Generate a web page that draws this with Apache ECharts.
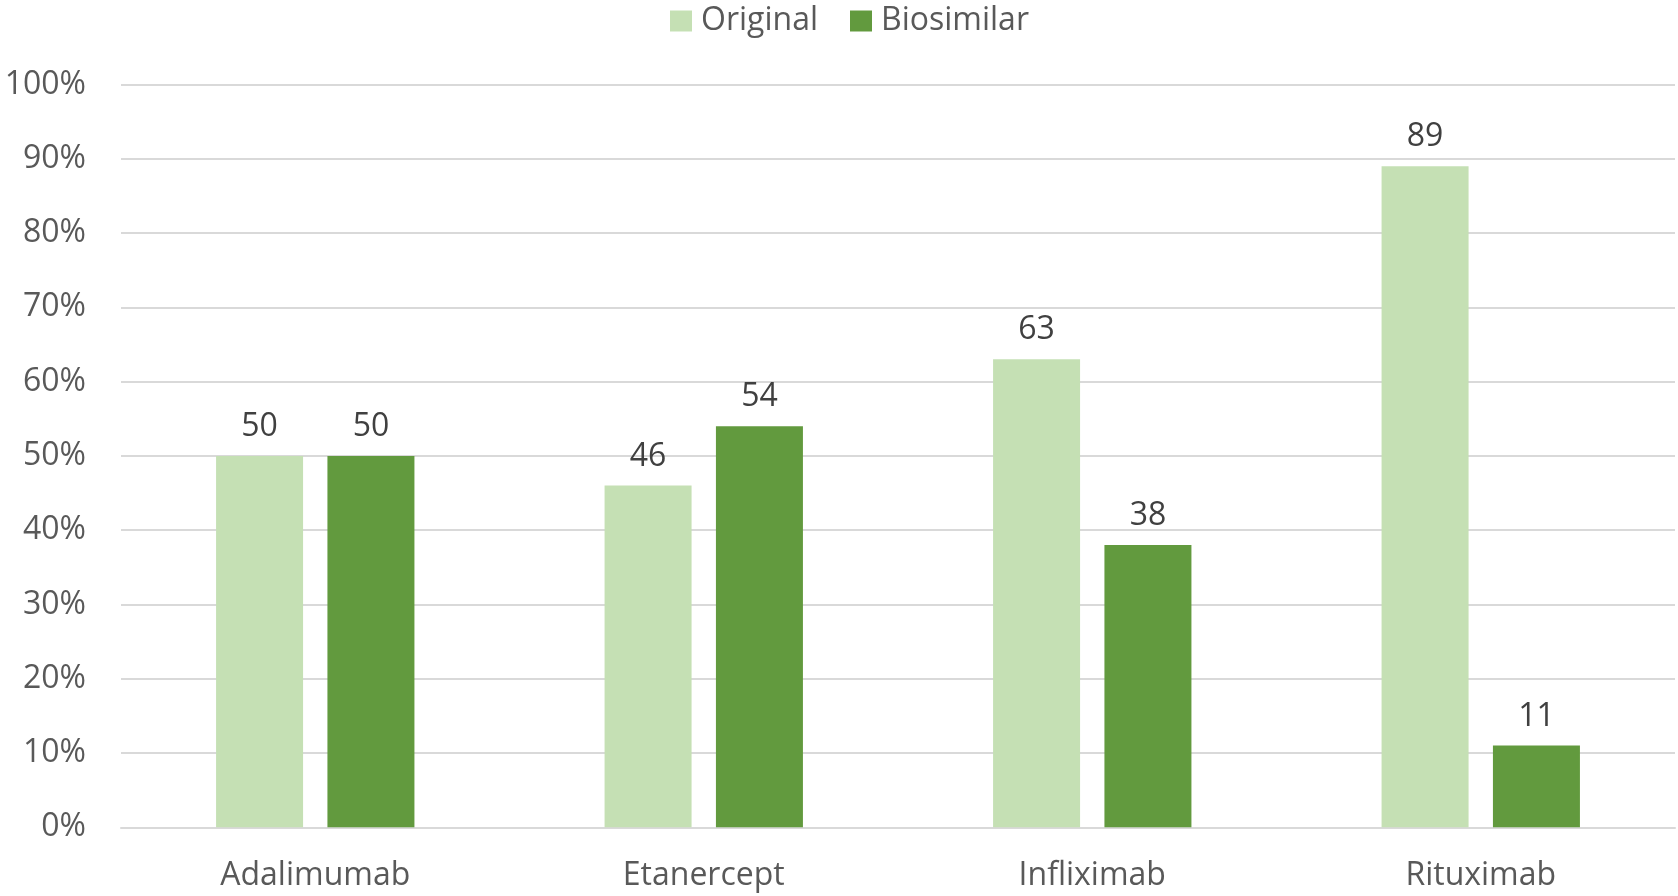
<!DOCTYPE html>
<html><head><meta charset="utf-8">
<script src="https://cdn.jsdelivr.net/npm/echarts@6/dist/echarts.min.js"></script>
<style>html,body{margin:0;padding:0;background:#fff}#c{width:1678px;height:896px}</style>
</head><body><div id="c"></div>
<script>
const categories = ['Adalimumab', 'Etanercept', 'Infliximab', 'Rituximab'];
const originalValues = [50, 46, 63, 89];
const biosimilarValues = [50, 54, 38, 11];
const seriesNames = ['Original', 'Biosimilar'];

const FONT = '"Open Sans", sans-serif';
const chart = echarts.init(document.getElementById('c'), null, {renderer: 'canvas'});
const labelCfg = {show: true, position: 'top', distance: 13, color: '#404040', fontFamily: FONT, fontSize: 32};
chart.setOption({
  animation: false,
  backgroundColor: '#fff',
  legend: {
    top: 0, left: 665, itemWidth: 22, itemHeight: 21, itemGap: 32,
    icon: 'rect',
    textStyle: {color: '#595959', fontFamily: FONT, fontSize: 32, padding: [0, 0, 0, 4]},
    data: seriesNames
  },
  grid: {left: 121, right: 3, top: 84.5, bottom: 68.7, containLabel: false},
  xAxis: {
    type: 'category', data: categories,
    axisLine: {lineStyle: {color: '#D9D9D9', width: 2}},
    axisTick: {show: false},
    axisLabel: {color: '#595959', fontFamily: FONT, fontSize: 32, margin: 33}
  },
  yAxis: {
    type: 'value', min: 0, max: 100, interval: 10,
    axisLine: {show: false}, axisTick: {show: false},
    splitLine: {lineStyle: {color: '#D9D9D9', width: 2}},
    axisLabel: {formatter: '{value}%', color: '#595959', fontFamily: FONT, fontSize: 32, margin: 35, padding: [5, 0, 0, 0]}
  },
  series: [
    {name: seriesNames[0], type: 'bar', data: originalValues, barWidth: 87, barGap: '28%',
     itemStyle: {color: '#C5E0B4'}, label: labelCfg},
    {name: seriesNames[1], type: 'bar', data: biosimilarValues, barWidth: 87, barGap: '28%',
     itemStyle: {color: '#629A3E'}, label: labelCfg}
  ]
});
</script></body></html>
